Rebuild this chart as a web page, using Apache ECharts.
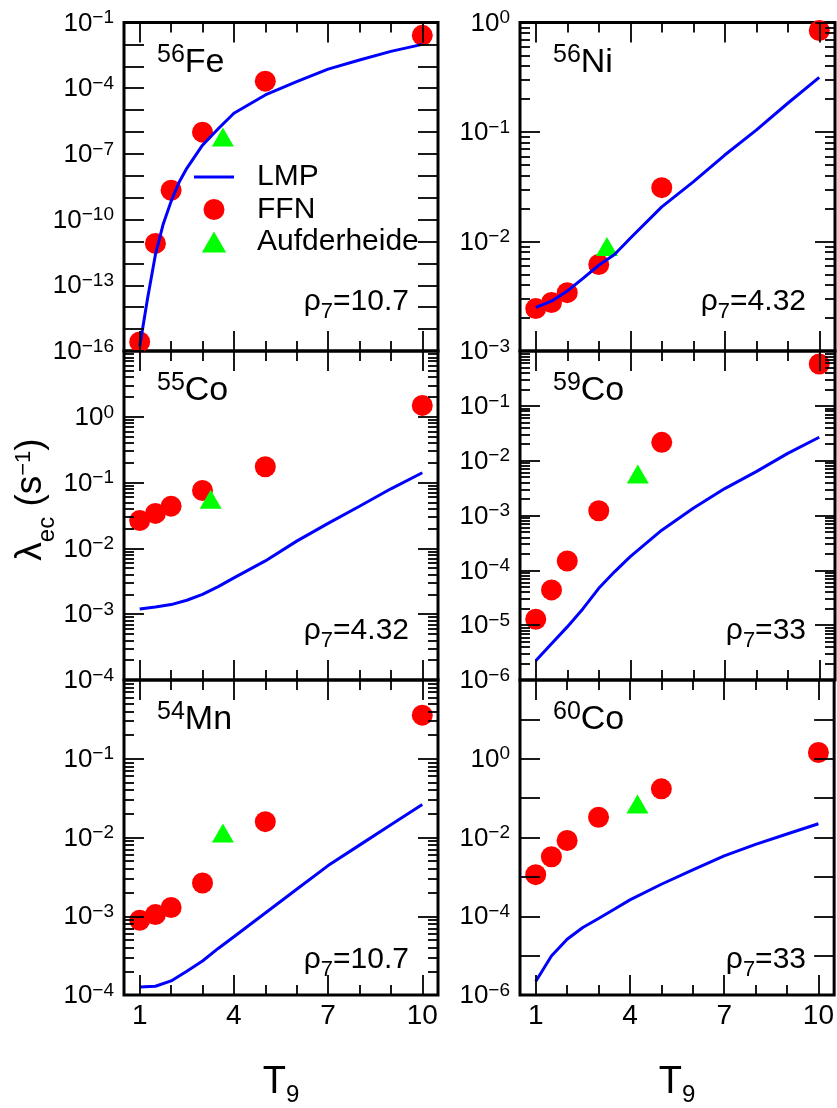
<!DOCTYPE html>
<html><head><meta charset="utf-8">
<script src="https://cdn.jsdelivr.net/npm/echarts@6/dist/echarts.min.js"></script>
<style>html,body{margin:0;padding:0;background:#fff}#c{width:837px;height:1108px}</style>
</head><body><div id="c"></div>
<script>
// ---------------- data ----------------
const T9_FFN = [1, 1.5, 2, 3, 5, 10];
const T9_LMP = [1, 1.5, 2, 2.5, 3, 3.5, 4, 5, 6, 7, 8, 9, 10];
const T9_LMP_FE = [1, 1.25, 1.5, 1.75, 2, 2.25, 2.5, 3, 3.5, 4, 5, 6, 7, 8, 9, 10];
const X_MAJOR = [1, 4, 7, 10];
const X_MINOR = [2, 3, 5, 6, 8, 9];

// 56Fe  (rho7 = 10.7)
const FE_LMP = [1.6e-16, 2.5e-14, 2.5e-12, 6.3e-11, 6.8e-10, 4.9e-9, 2.2e-8, 2.5e-7, 1.4e-6, 7.2e-6, 4.9e-5, 2.0e-4, 7.4e-4, 1.95e-3, 4.8e-3, 1.0e-2];
const FE_FFN = [2.6e-16, 8.2e-12, 2.2e-9, 9.8e-7, 2.1e-4, 2.6e-2];
const FE_AUF = [[3.65, 5.9e-7]];
// 56Ni  (rho7 = 4.32)
const NI_LMP = [2.5e-3, 2.85e-3, 3.53e-3, 4.6e-3, 6.07e-3, 7.6e-3, 1.07e-2, 2.07e-2, 3.5e-2, 6.16e-2, 1.04e-1, 1.83e-1, 3.16e-1];
const NI_FFN = [2.44e-3, 2.77e-3, 3.41e-3, 6.16e-3, 3.1e-2, 0.845];
const NI_AUF = [[3.26, 9.0e-3]];
// 55Co  (rho7 = 4.32)
const CO55_LMP = [1.2e-3, 1.29e-3, 1.4e-3, 1.63e-3, 2.0e-3, 2.63e-3, 3.57e-3, 6.45e-3, 1.29e-2, 2.4e-2, 4.37e-2, 8.05e-2, 0.141];
const CO55_FFN = [2.65e-2, 3.4e-2, 4.38e-2, 7.59e-2, 0.174, 1.49];
const CO55_AUF = [[3.26, 5.6e-2]];
// 59Co  (rho7 = 33)
const CO59_LMP = [2.25e-6, 4.6e-6, 9.3e-6, 2.0e-5, 4.7e-5, 9.4e-5, 1.78e-4, 5.4e-4, 1.35e-3, 3.1e-3, 6.3e-3, 1.36e-2, 2.67e-2];
const CO59_FFN = [1.28e-5, 4.4e-5, 1.48e-4, 1.22e-3, 2.16e-2, 0.58];
const CO59_AUF = [[4.24, 5.7e-3]];
// 54Mn  (rho7 = 10.7)
const MN54_LMP = [1.26e-4, 1.29e-4, 1.51e-4, 2.0e-4, 2.7e-4, 3.9e-4, 5.5e-4, 1.1e-3, 2.2e-3, 4.4e-3, 8.0e-3, 1.45e-2, 2.63e-2];
const MN54_FFN = [8.9e-4, 1.05e-3, 1.29e-3, 2.64e-3, 1.59e-2, 0.358];
const MN54_AUF = [[3.65, 1.14e-2]];
// 60Co  (rho7 = 33)
const CO60_LMP = [2.2e-6, 9.8e-6, 2.6e-5, 5.2e-5, 8.8e-5, 1.5e-4, 2.6e-4, 6.5e-4, 1.5e-3, 3.4e-3, 6.7e-3, 1.23e-2, 2.24e-2];
const CO60_FFN = [1.14e-3, 3.24e-3, 8.4e-3, 3.27e-2, 0.172, 1.44];
const CO60_AUF = [[4.24, 7.1e-2]];

const PANELS = [
  {mass:'56', el:'Fe', rho:'10.7', lmpT:T9_LMP_FE, lmp:FE_LMP, ffn:FE_FFN, auf:FE_AUF, yMin:-16, yMax:-1, labelExps:[-1,-4,-7,-10,-13,-16], minor:false},
  {mass:'56', el:'Ni', rho:'4.32', lmpT:T9_LMP, lmp:NI_LMP, ffn:NI_FFN, auf:NI_AUF, yMin:-3, yMax:0, labelExps:[0,-1,-2,-3], minor:true},
  {mass:'55', el:'Co', rho:'4.32', lmpT:T9_LMP, lmp:CO55_LMP, ffn:CO55_FFN, auf:CO55_AUF, yMin:-4, yMax:1, labelExps:[0,-1,-2,-3,-4], minor:true},
  {mass:'59', el:'Co', rho:'33', lmpT:T9_LMP, lmp:CO59_LMP, ffn:CO59_FFN, auf:CO59_AUF, yMin:-6, yMax:0, labelExps:[-1,-2,-3,-4,-5,-6], minor:true},
  {mass:'54', el:'Mn', rho:'10.7', lmpT:T9_LMP, lmp:MN54_LMP, ffn:MN54_FFN, auf:MN54_AUF, yMin:-4, yMax:0, labelExps:[-1,-2,-3,-4], minor:true},
  {mass:'60', el:'Co', rho:'33', lmpT:T9_LMP, lmp:CO60_LMP, ffn:CO60_FFN, auf:CO60_AUF, yMin:-6, yMax:2, labelExps:[0,-2,-4,-6], minor:false}
];

// ---------------- layout ----------------
const FONT = 'Liberation Sans, Arial, Helvetica, sans-serif';
const COLS = [{left:124, width:314}, {left:520, width:315}];
const ROWS = [{top:22.5, height:328.5}, {top:351, height:329}, {top:680, height:329}];

const grids = [], xAxes = [], yAxes = [], series = [], titles = [];
const pow10 = e => Math.pow(10, e);
const supTxt = e => (e < 0 ? '\u2212' + (-e) : '' + e);
const txt = (size, extra) => Object.assign({fontSize: size, fontFamily: FONT, color: '#000', fontWeight: 'normal'}, extra || {});

PANELS.forEach((p, i) => {
  const col = COLS[i % 2], row = ROWS[Math.floor(i / 2)];
  grids.push({left: col.left, top: row.top, width: col.width, height: row.height,
    show: true, borderColor: '#000', borderWidth: 3, backgroundColor: 'transparent', containLabel: false});
  const bottomRow = i >= 4;
  const xBase = {type: 'value', gridIndex: i, min: 0.5, max: 10.5, splitLine: {show: false},
    axisLine: {show: false, onZero: false}, z: 5};
  const tickStyle = {color: '#000', width: 1.8};
  xAxes.push(Object.assign({}, xBase, {position: 'bottom',
    axisTick: {show: true, inside: true, length: 20, customValues: X_MAJOR, lineStyle: tickStyle},
    axisLabel: {show: bottomRow, customValues: X_MAJOR, margin: 7, fontSize: 28, fontFamily: FONT, color: '#000'},
    name: bottomRow ? '{t|T}{s|9}' : '', nameLocation: 'middle', nameGap: 69,
    nameTextStyle: {rich: {t: txt(38, {lineHeight: 40, verticalAlign: 'top'}),
      s: txt(24, {lineHeight: 24, verticalAlign: 'bottom', padding: [0, 0, -3, 0]})}}}));
  xAxes.push(Object.assign({}, xBase, {position: 'bottom',
    axisTick: {show: true, inside: true, length: 10, customValues: X_MINOR, lineStyle: tickStyle},
    axisLabel: {show: false}}));
  xAxes.push(Object.assign({}, xBase, {position: 'top',
    axisTick: {show: true, inside: true, length: 20, customValues: X_MAJOR, lineStyle: tickStyle},
    axisLabel: {show: false}}));
  xAxes.push(Object.assign({}, xBase, {position: 'top',
    axisTick: {show: true, inside: true, length: 10, customValues: X_MINOR, lineStyle: tickStyle},
    axisLabel: {show: false}}));

  const decades = [], minors = [];
  for (let e = p.yMin; e <= p.yMax; e++) decades.push(pow10(e));
  if (p.minor) for (let e = p.yMin; e < p.yMax; e++) for (let k = 2; k <= 9; k++) minors.push(k * pow10(e));
  const labels = p.labelExps.map(pow10);
  const yBase = {type: 'log', logBase: 10, gridIndex: i, min: pow10(p.yMin), max: pow10(p.yMax),
    splitLine: {show: false}, minorTick: {show: false}, axisLine: {show: false, onZero: false}, z: 5};
  const yLeft = Object.assign({}, yBase, {position: 'left',
    axisTick: {show: true, inside: true, length: 20, customValues: decades, lineStyle: tickStyle},
    axisLabel: {show: true, customValues: labels, margin: 10, fontSize: 26, fontFamily: FONT, color: '#000',
      richInheritPlainLabel: false,
      formatter: v => '{b|10}{s|' + supTxt(Math.round(Math.log10(v))) + '}',
      rich: {b: txt(26, {lineHeight: 28, verticalAlign: 'bottom'}),
             s: txt(19, {lineHeight: 18, verticalAlign: 'top'})}}});
  if (i === 2) {
    yLeft.name = '{l|\u03bb}{e|ec}{l| (s}{u|\u22121}{l|)}';
    yLeft.nameLocation = 'middle';
    yLeft.nameRotate = 90;
    yLeft.nameGap = 70;
    yLeft.nameTextStyle = {padding: [0, 0, 0, 32], rich: {
      l: txt(37, {lineHeight: 38, verticalAlign: 'top'}),
      e: txt(24, {lineHeight: 24, verticalAlign: 'bottom', padding: [0, 0, -9, 0]}),
      u: txt(22, {lineHeight: 22, verticalAlign: 'top'})}};
  }
  yAxes.push(yLeft);
  yAxes.push(Object.assign({}, yBase, {position: 'left',
    axisTick: {show: p.minor, inside: true, length: 10, customValues: p.minor ? minors : decades, lineStyle: tickStyle},
    axisLabel: {show: false}}));
  yAxes.push(Object.assign({}, yBase, {position: 'right',
    axisTick: {show: true, inside: true, length: 20, customValues: decades, lineStyle: tickStyle},
    axisLabel: {show: false}}));
  yAxes.push(Object.assign({}, yBase, {position: 'right',
    axisTick: {show: p.minor, inside: true, length: 10, customValues: p.minor ? minors : decades, lineStyle: tickStyle},
    axisLabel: {show: false}}));

  const xi = i * 4, yi = i * 4;
  series.push({name: 'FFN', type: 'scatter', xAxisIndex: xi, yAxisIndex: yi, symbol: 'circle', symbolSize: 21,
    itemStyle: {color: '#ff0000', opacity: 1}, z: 2, data: T9_FFN.map((t, k) => [t, p.ffn[k]])});
  series.push({name: 'Aufderheide', type: 'scatter', xAxisIndex: xi, yAxisIndex: yi, symbol: 'triangle', symbolSize: [22, 19],
    itemStyle: {color: '#00ff00', opacity: 1}, z: 3, data: p.auf});
  series.push({name: 'LMP', type: 'line', xAxisIndex: xi, yAxisIndex: yi, symbol: 'none', smooth: false,
    lineStyle: {color: '#0000ff', width: 3}, itemStyle: {color: '#0000ff'}, z: 4, data: p.lmpT.map((t, k) => [t, p.lmp[k]])});

  titles.push({text: '{s|' + p.mass + '}{m|' + p.el + '}', left: col.left + 33, top: row.top + 20, padding: 0,
    textStyle: {fontWeight: 'normal', rich: {s: txt(25, {lineHeight: 25, verticalAlign: 'top'}),
                       m: txt(34, {lineHeight: 37, verticalAlign: 'bottom'})}}});
  titles.push({text: '{r|\u03c1}{d|7}{r|=' + p.rho + '}', right: 837 - (col.left + col.width - 29),
    top: row.top + row.height - 38.5 - 26, padding: 0,
    textStyle: {fontWeight: 'normal', rich: {r: txt(30, {lineHeight: 32, verticalAlign: 'top'}),
                       d: txt(22, {lineHeight: 22, verticalAlign: 'bottom', padding: [0, 0, -4, 0]})}}});
});

const chart = echarts.init(document.getElementById('c'), null, {renderer: 'canvas'});
chart.setOption({
  backgroundColor: '#fff',
  animation: false,
  grid: grids, xAxis: xAxes, yAxis: yAxes, series: series, title: titles,
  legend: {
    data: [
      {name: 'LMP', icon: 'path://M0,0L40,0L40,3L0,3Z'},
      {name: 'FFN', icon: 'circle'},
      {name: 'Aufderheide', icon: 'path://M0,19L11,0L22,19Z'}
    ],
    orient: 'vertical', left: 194, top: 162, padding: 0,
    itemWidth: 40, itemHeight: 21, itemGap: 2.5, selectedMode: false,
    textStyle: {fontSize: 30, fontFamily: FONT, color: '#000', lineHeight: 22, padding: [0, 0, 0, 18]}}
});
</script></body></html>
